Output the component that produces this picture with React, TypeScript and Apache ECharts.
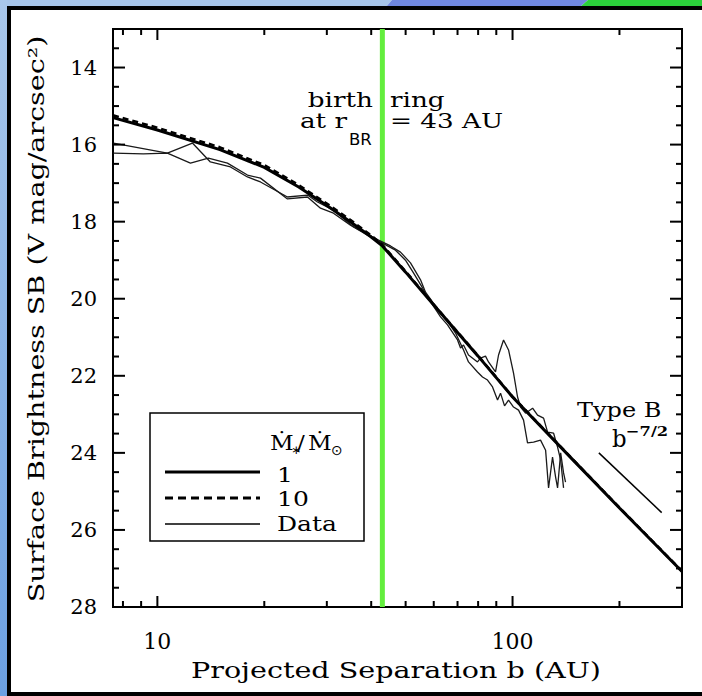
import React, { useEffect, useRef } from 'react';
import * as echarts from 'echarts';

const FONT = '"DejaVu Serif", "DejaVu Sans", serif';

// ---- axis ticks / labels ----
const xMajorTicks = [10, 100];
const xMinorTicks = [8, 9, 20, 30, 40, 50, 60, 70, 80, 90, 200];
const yLabelTicks = [14, 16, 18, 20, 22, 24, 26, 28];
const yMinorTicks = [13.5, 14.5, 15, 15.5, 16.5, 17, 17.5, 18.5, 19, 19.5, 20.5, 21, 21.5, 22.5, 23, 23.5, 24.5, 25, 25.5, 26.5, 27, 27.5];

// ---- model curves (Mdot/Mdot_sun = 1 and 10) ----
const modelB = [7.5, 10, 15, 20, 25, 30, 35, 40, 43, 50, 60, 80, 100, 150, 200, 300];
const model1SB = [15.30, 15.62, 16.13, 16.59, 17.10, 17.58, 18.01, 18.40, 18.63, 19.31, 20.16, 21.49, 22.55, 24.24, 25.43, 27.08];
const model10SB = [15.24, 15.56, 16.07, 16.53, 17.05, 17.53, 17.96, 18.36, 18.60, 19.29, 20.15, 21.48, 22.54, 24.23, 25.42, 27.07];

// ---- data curves ----
const data1B = [7.52, 10.67, 12.55, 14.10, 16.06, 17.93, 19.51, 23.24, 26.46, 28.23, 31.32, 35.66, 39.04, 42.49, 46.82, 49.95, 52.61, 55.79, 57.63, 62.70, 65.60, 70.00, 71.38, 72.78, 75.16, 79.67, 81.24, 83.92, 85.57, 89.55, 91.32, 94.33, 97.44, 100.65, 103.3, 105.33, 108.8, 113.9, 117.6, 122.3, 125.5, 130.5, 133.9, 136.6, 139.2];
const data1SB = [15.96, 16.22, 15.96, 16.45, 16.58, 16.84, 16.97, 17.36, 17.31, 17.49, 17.70, 18.14, 18.35, 18.53, 18.74, 19.00, 19.33, 19.72, 19.96, 20.47, 20.68, 21.07, 21.28, 21.20, 21.46, 21.64, 21.54, 21.49, 21.64, 21.90, 21.46, 21.07, 21.33, 21.93, 22.55, 22.81, 22.97, 22.84, 23.02, 23.10, 23.46, 23.49, 23.85, 24.19, 24.91];
const data2B = [7.52, 9.13, 10.67, 12.39, 13.92, 15.75, 17.93, 19.51, 23.24, 26.46, 28.79, 31.32, 34.97, 38.05, 41.94, 45.33, 48.36, 51.60, 55.07, 56.88, 60.70, 64.76, 69.10, 72.78, 75.16, 79.67, 82.30, 85.02, 87.83, 90.73, 92.51, 94.95, 97.44, 100.65, 103.97, 107.4, 110.2, 114.6, 119.9, 123.9, 126.3, 129.6, 132.2, 133.9, 136.6, 139.2, 141.0];
const data2SB = [16.22, 16.24, 16.22, 16.48, 16.35, 16.48, 16.79, 16.87, 17.41, 17.36, 17.65, 17.78, 18.09, 18.27, 18.48, 18.63, 18.79, 19.07, 19.51, 19.83, 20.19, 20.50, 20.89, 21.33, 21.64, 21.90, 22.03, 22.11, 22.29, 22.63, 22.45, 22.78, 22.63, 22.81, 22.89, 23.15, 23.74, 23.72, 23.67, 23.93, 24.91, 24.11, 24.63, 24.91, 24.00, 24.52, 24.76];

// ---- Type B reference slope b^-7/2 ----
const typeBB = [175, 263];
const typeBSB = [24.0, 25.55];

// ---- birth ring ----
const birthRingAU = 43;
const xRange = [7.5, 300];
const yRange = [13, 28];

const pairs = (xs: number[], ys: number[]) => xs.map((x, i) => [x, ys[i]]);

const tb = (text: string, x: number, baseline: number, fs: number, align = 'left', sx = 1.25, extra: any = {}) => ({
  type: 'text',
  x,
  y: baseline - 0.35 * fs,
  scaleX: sx,
  z: 100,
  style: { text, font: `${extra.weight || 'normal'} ${fs}px ${extra.family || FONT}`, fill: '#000', align, verticalAlign: 'middle' },
});

export default function App() {
  const ref = useRef<HTMLDivElement>(null);
  useEffect(() => {
    const chart = echarts.init(ref.current!, undefined, { renderer: 'svg' });

    const xTickData = [...xMajorTicks.map((v) => [v, yRange[0], 1]), ...xMinorTicks.map((v) => [v, yRange[0], 0])];
    const yTickData = [...yLabelTicks.map((v) => [xRange[0], v, 1]), ...yMinorTicks.map((v) => [xRange[0], v, 0])];

    const option: any = {
      animation: false,
      backgroundColor: '#ffffff',
      grid: { left: 113, top: 29, width: 569, height: 578, show: true, borderColor: '#000', borderWidth: 2, backgroundColor: 'transparent' },
      xAxis: {
        type: 'log', logBase: 10, min: xRange[0], max: xRange[1],
        axisLine: { show: false }, axisTick: { show: false }, splitLine: { show: false }, minorTick: { show: false },
        axisLabel: {
          color: '#000', fontFamily: FONT, fontSize: 22, margin: 23,
          formatter: (v: number) => (xMajorTicks.some((t) => Math.abs(v - t) < 1e-6 * t) ? String(Math.round(v)) : ''),
        },
      },
      yAxis: {
        type: 'value', inverse: true, min: yRange[0], max: yRange[1], interval: 1,
        axisLine: { show: false }, axisTick: { show: false }, splitLine: { show: false },
        axisLabel: {
          color: '#000', fontFamily: FONT, fontSize: 21, margin: 16,
          formatter: (v: number) => (yLabelTicks.indexOf(v) >= 0 ? String(v) : ''),
        },
      },
      series: [
        {
          type: 'line', data: [[birthRingAU, yRange[0]], [birthRingAU, yRange[1]]], showSymbol: false, silent: true,
          lineStyle: { color: '#63ee3d', width: 5 }, z: 1,
        },
        {
          type: 'line', data: pairs(data1B, data1SB), showSymbol: false, silent: true,
          lineStyle: { color: '#1a1a1a', width: 1.3 }, z: 2,
        },
        {
          type: 'line', data: pairs(data2B, data2SB), showSymbol: false, silent: true,
          lineStyle: { color: '#1a1a1a', width: 1.3 }, z: 2,
        },
        {
          type: 'line', data: pairs(modelB, model1SB), showSymbol: false, silent: true,
          lineStyle: { color: '#000', width: 3 }, z: 3,
        },
        {
          type: 'line', data: pairs(modelB, model10SB), showSymbol: false, silent: true,
          lineStyle: { color: '#000', width: 2.5, type: [6, 4] }, z: 3,
        },
        {
          type: 'line', data: pairs(typeBB, typeBSB), showSymbol: false, silent: true,
          lineStyle: { color: '#000', width: 1.5 }, z: 3,
        },
        {
          type: 'custom', data: xTickData, silent: true, clip: false, z: 5,
          renderItem: (params: any, api: any) => {
            const v = api.value(0);
            const len = api.value(2) === 1 ? 11 : 6;
            const top = api.coord([v, yRange[0]]);
            const bot = api.coord([v, yRange[1]]);
            return {
              type: 'group',
              children: [
                { type: 'line', shape: { x1: top[0], y1: top[1], x2: top[0], y2: top[1] + len }, style: { stroke: '#000', lineWidth: 2 } },
                { type: 'line', shape: { x1: bot[0], y1: bot[1], x2: bot[0], y2: bot[1] - len }, style: { stroke: '#000', lineWidth: 2 } },
              ],
            };
          },
        },
        {
          type: 'custom', data: yTickData, silent: true, clip: false, z: 5,
          renderItem: (params: any, api: any) => {
            const v = api.value(1);
            const len = api.value(2) === 1 ? 12 : 6;
            const l = api.coord([xRange[0], v]);
            const r = api.coord([xRange[1], v]);
            return {
              type: 'group',
              children: [
                { type: 'line', shape: { x1: l[0], y1: l[1], x2: l[0] + len, y2: l[1] }, style: { stroke: '#000', lineWidth: 2 } },
                { type: 'line', shape: { x1: r[0], y1: r[1], x2: r[0] - len, y2: r[1] }, style: { stroke: '#000', lineWidth: 2 } },
              ],
            };
          },
        },
      ],
      graphic: [
        // slide frame
        { type: 'polygon', z: 50, shape: { points: [[0, 0], [392, 0], [386, 7], [0, 7]] }, style: { fill: '#a7c5ea' } },
        { type: 'polygon', z: 50, shape: { points: [[392, 0], [588, 0], [580, 7], [386, 7]] }, style: { fill: '#6f87e0' } },
        { type: 'polygon', z: 50, shape: { points: [[588, 0], [702, 0], [702, 7], [580, 7]] }, style: { fill: '#2bd03b' } },
        {
          type: 'rect', z: 50, shape: { x: 0, y: 0, width: 7, height: 696 },
          style: { fill: new echarts.graphic.LinearGradient(0, 0, 0, 1, [{ offset: 0, color: '#a9c7eb' }, { offset: 1, color: '#6ca0e2' }]) },
        },
        { type: 'rect', z: 50, shape: { x: 7, y: 6, width: 695, height: 4 }, style: { fill: '#000' } },
        { type: 'rect', z: 50, shape: { x: 7, y: 6, width: 4, height: 690 }, style: { fill: '#000' } },
        { type: 'rect', z: 50, shape: { x: 7, y: 692, width: 695, height: 4 }, style: { fill: '#000' } },

        // axis titles
        { ...tb('Projected Separation b (AU)', 396, 678, 22, 'center', 1.3) },
        {
          type: 'text', x: 36, y: 319, rotation: Math.PI / 2, scaleX: 1.3, z: 100,
          style: { text: 'Surface Brightness SB (V mag/arcsec²)', font: `22px ${FONT}`, fill: '#000', align: 'center', verticalAlign: 'middle' },
        },

        // birth ring annotation
        tb('birth', 373, 107, 21, 'right'),
        tb('ring', 390, 107, 21, 'left'),
        tb('at r', 347, 128, 21, 'right'),
        tb('BR', 349, 145, 15, 'left', 1.1, { family: '"DejaVu Sans", sans-serif' }),
        tb('= 43 AU', 390, 128, 21, 'left'),

        // Type B annotation
        tb('Type B', 577, 417, 20, 'left', 1.2),
        tb('b', 612, 447, 24, 'left', 0.95),
        tb('−7/2', 626, 436, 13, 'left', 1.25, { weight: 'bold' }),

        // legend
        { type: 'rect', z: 90, shape: { x: 150, y: 413, width: 214, height: 128 }, style: { fill: '#fff', stroke: '#000', lineWidth: 1.5 } },
        tb('Ṁ', 270, 450, 21, 'left', 1.1),
        tb('∗', 291, 454, 12, 'left', 1.0, { family: '"DejaVu Sans", sans-serif' }),
        tb('/', 297, 450, 21, 'left', 1.1),
        tb('Ṁ', 308, 450, 21, 'left', 1.1),
        tb('⊙', 331, 455, 14, 'left', 1.0, { family: '"DejaVu Sans", sans-serif' }),
        { type: 'line', z: 100, shape: { x1: 165, y1: 472, x2: 260, y2: 472 }, style: { stroke: '#000', lineWidth: 3 } },
        { type: 'line', z: 100, shape: { x1: 165, y1: 498, x2: 260, y2: 498 }, style: { stroke: '#000', lineWidth: 3, lineDash: [8, 5] } },
        { type: 'line', z: 100, shape: { x1: 165, y1: 524, x2: 260, y2: 524 }, style: { stroke: '#000', lineWidth: 1.3 } },
        tb('1', 277, 482, 20, 'left'),
        tb('10', 277, 506, 20, 'left'),
        tb('Data', 277, 531, 20, 'left'),
      ],
    };

    chart.setOption(option);
    return () => chart.dispose();
  }, []);
  return <div ref={ref} style={{ position: 'absolute', left: 0, top: 0, width: 702, height: 696 }} />;
}
